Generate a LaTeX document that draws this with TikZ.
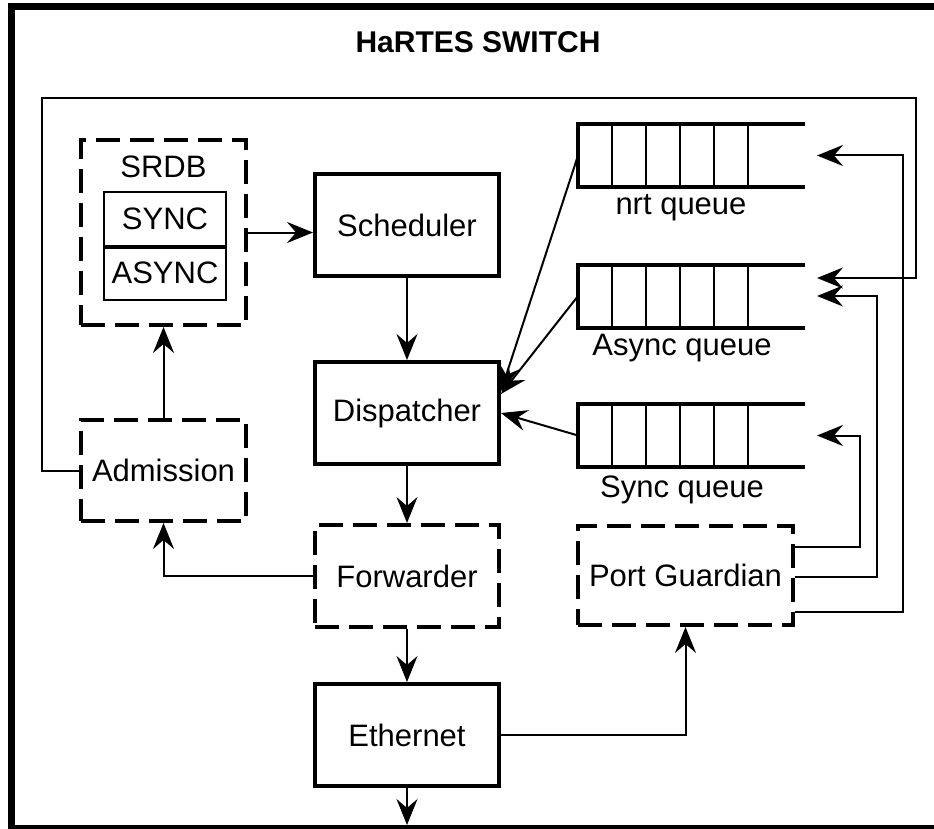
\documentclass[tikz,border=0pt]{standalone}
\usepackage{fontspec}
\setmainfont{Liberation Sans}
\usetikzlibrary{arrows.meta,calc}

\begin{document}
\begin{tikzpicture}[x=1pt,y=-1pt,
  every node/.style={inner sep=0pt, font=\fontsize{31}{37}\selectfont},
  block/.style={draw, line width=4pt, minimum width=184pt, minimum height=102pt},
  dblock/.style={block, dash pattern=on 24pt off 10pt},
  inner/.style={draw, line width=2pt, minimum width=122pt, minimum height=54pt},
  qbox/.style={minimum width=227pt, minimum height=63pt, outer sep=0pt},
  qline/.style={line width=4pt},
  qdiv/.style={line width=2.5pt},
  conn/.style={line width=2pt},
  arr/.style={conn, -{Stealth[length=26pt, width=21pt, inset=9pt]}}]

\clip (0,0) rectangle (934,829);
\fill[white] (0,0) rectangle (934,829);

% switch frame and title
\draw[line width=6.5pt] (11.5,6.5) rectangle (950,828);
\node[font=\fontsize{30}{36}\selectfont\bfseries] (title) at (478,42) {HaRTES SWITCH};

% main pipeline
\node[block]  (sched) at (407,225) {Scheduler};
\node[block]  (disp)  at (407,413) {Dispatcher};
\node[dblock] (fwd)   at (407,576) {Forwarder};
\node[block]  (eth)   at (407,735) {Ethernet};

% reservation database and admission control
\node[dblock, minimum width=165pt, minimum height=185pt] (srdb) at (163.5,232.5) {};
\node (srdbl) at (163.5,167) {SRDB};
\node[inner] (sync)  at (165,219) {SYNC};
\node[inner] (async) at (165,273) {ASYNC};
\draw[line width=3.5pt] (sync.south west) -- (sync.south east);
\node[dblock, minimum width=165pt, minimum height=101pt] (adm) at (163.5,470.5) {Admission};

% port guardian
\node[dblock, minimum width=215pt, minimum height=99pt] (pg) at (685.5,575.5) {Port Guardian};

% output queues
\node[qbox] (nrt) at (691.5,155.5) {};
\node[qbox] (aq)  at (691.5,296)   {};
\node[qbox] (sq)  at (691.5,435.5) {};
\foreach \q in {nrt,aq,sq}{
  \draw[qline] (\q.north east) -- (\q.north west) -- (\q.south west) -- (\q.south east);
  \foreach \k in {1,...,5}
    \draw[qdiv] ($(\q.north west)+(34*\k,0)$) -- ($(\q.south west)+(34*\k,0)$);
}
\node (nrtl) at (681,208) {nrt queue};
\node (aql)  at (682,348) {Async queue};
\node (sql)  at (682,490) {Sync queue};

% queue inputs
\coordinate (nqin)  at ([xshift=12pt]nrt.east);
\coordinate (aqin1) at ([xshift=12pt,yshift=18pt]aq.east);
\coordinate (aqin2) at ([xshift=12pt]aq.east);
\coordinate (sqin)  at ([xshift=12pt]sq.east);
\coordinate (loopL) at (42,98);
\coordinate (loopR) at (916,98);
\coordinate (out)   at (407,825);

% connectors
\draw[arr] (srdb.east) -- (srdb.east -| sched.west);
\draw[arr] (sched.south) -- (disp.north);
\draw[arr] (disp.south) -- (fwd.north);
\draw[arr] (fwd.south) -- (eth.north);
\draw[arr] (eth.south) -- (out);
\draw[arr] (adm.north) -- (srdb.south);
\draw[arr] (fwd.west) -| (adm.south);
\draw[arr] (eth.east) -| (pg.south);

\draw[arr] (nrt.west) -- ([yshift=22pt]disp.east);
\draw[arr] (aq.west)  -- ([yshift=19pt]disp.east);
\draw[arr] (sq.west)  -- (disp.east);

\draw[arr] (adm.west) -| (loopL) -- (loopR) |- (aqin1);
\draw[arr] ([yshift=28.5pt]pg.east) -- ++(65,0) |- (sqin);
\draw[arr] ([yshift=-1.5pt]pg.east) -- ++(82,0) |- (aqin2);
\draw[arr] ([yshift=-36.5pt]pg.east) -- ++(108,0) |- (nqin);

\end{tikzpicture}
\end{document}
